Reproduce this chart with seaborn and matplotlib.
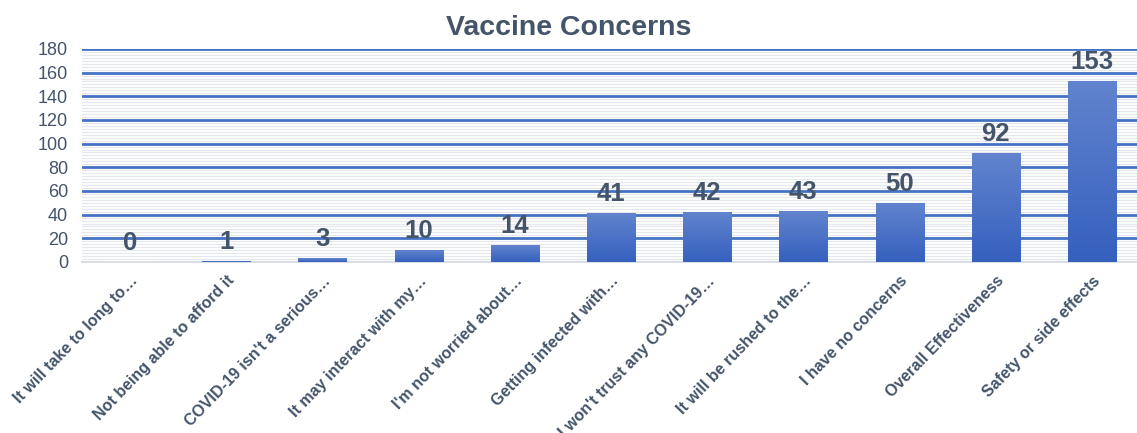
import numpy as np
import pandas as pd
import seaborn as sns
import matplotlib.pyplot as plt
from matplotlib.ticker import MultipleLocator
from matplotlib.colors import LinearSegmentedColormap

#############################################
# Data
#############################################
concerns = [
    "It will take to long to\u2026",
    "Not being able to afford it",
    "COVID-19 isn't a serious\u2026",
    "It may interact with my\u2026",
    "I'm not worried about\u2026",
    "Getting infected with\u2026",
    "I won't trust any COVID-19\u2026",
    "It will be rushed to the\u2026",
    "I have no concerns",
    "Overall Effectiveness",
    "Safety or side effects",
]
counts = [0, 1, 3, 10, 14, 41, 42, 43, 50, 92, 153]

df = pd.DataFrame({"concern": concerns, "count": counts})

#############################################
# Plot
#############################################
sns.set_style("white")
plt.rcParams["font.family"] = ["Liberation Sans", "DejaVu Sans"]
text_col = "#44546A"

fig = plt.figure(figsize=(11.37, 4.33), dpi=100)
ax = fig.add_axes([0.072, 0.395, 0.935, 0.492])

sns.barplot(data=df, x="concern", y="count", color="#4472C4", width=0.5,
            ax=ax, zorder=3)

# gradient fill for each bar
cmap = LinearSegmentedColormap.from_list("bars", ["#3560BE", "#6284CE"])
grad = np.linspace(0, 1, 256).reshape(-1, 1)
for p in ax.patches:
    x0, y0 = p.get_x(), p.get_y()
    w, h = p.get_width(), p.get_height()
    if h <= 0:
        continue
    p.set_facecolor("none")
    p.set_edgecolor("none")
    im = ax.imshow(grad, cmap=cmap, aspect="auto", origin="lower",
                   extent=[x0, x0 + w, y0, y0 + h], zorder=3)
    im.set_clip_path(p)

ax.set_xlim(-0.5, 10.55)
ax.set_ylim(0, 180)
ax.yaxis.set_major_locator(MultipleLocator(20))
ax.yaxis.set_minor_locator(MultipleLocator(2.5))
ax.grid(axis="y", which="major", color="#4472C4", lw=2, zorder=1)
ax.grid(axis="y", which="minor", color="#E6E8EE", lw=0.9, zorder=0)
ax.set_axisbelow(True)

for s in ["top", "right", "left"]:
    ax.spines[s].set_visible(False)
ax.spines["bottom"].set_color("#D9DDE4")
ax.spines["bottom"].set_linewidth(1.5)

# value labels
for i, v in enumerate(counts):
    ax.annotate(str(v), (i, v), xytext=(0, 5), textcoords="offset points",
                ha="center", va="bottom", fontsize=18.5, fontweight="bold",
                color=text_col, zorder=5)

ax.set_xlabel("")
ax.set_ylabel("")
ax.tick_params(axis="both", which="both", length=0)
ax.tick_params(axis="y", labelsize=13, labelcolor=text_col, pad=10)
ax.set_xticks(range(len(concerns)))
ax.set_xticklabels(concerns, rotation=46, ha="right", rotation_mode="anchor",
                   fontsize=11.5, fontweight="bold", color=text_col)
ax.tick_params(axis="x", pad=8)

fig.suptitle("Vaccine Concerns", x=0.5, y=0.965, fontsize=20.5,
             fontweight="bold", color=text_col)

plt.savefig("out.png", dpi=100)
